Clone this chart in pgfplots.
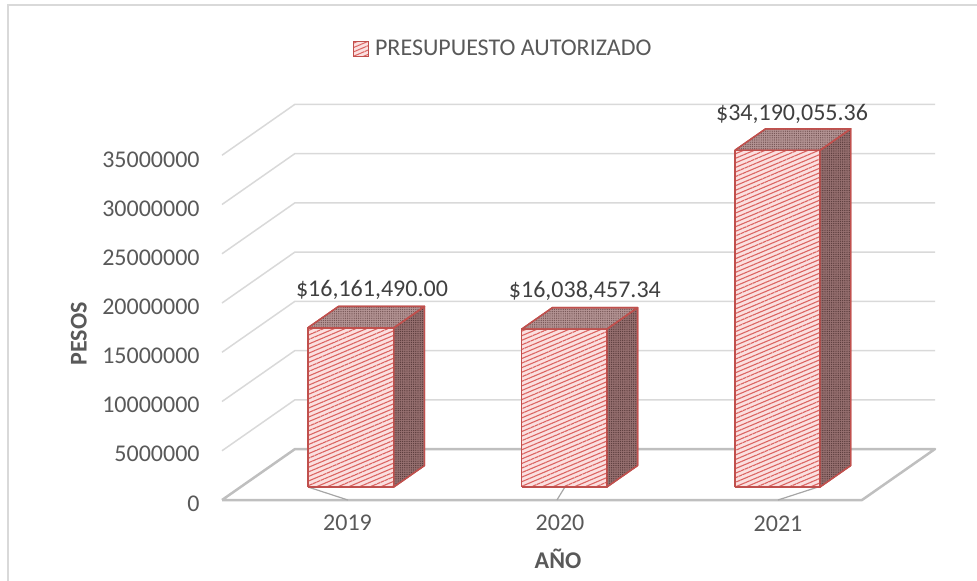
\documentclass[border=0pt]{standalone}
\usepackage{fontspec}
\setmainfont{Carlito}
\usepackage{pgfplots}
\pgfplotsset{compat=1.18}
\usetikzlibrary{patterns,patterns.meta}
\definecolor{gridc}{HTML}{D9D9D9}
\definecolor{floorc}{HTML}{BFBFBF}
\definecolor{tickc}{HTML}{A6A6A6}
\definecolor{barred}{HTML}{C0504D}
\definecolor{stripe}{HTML}{DB6461}
\definecolor{pinkbg}{HTML}{FBE0E0}
\definecolor{sidebg}{HTML}{967070}
\definecolor{sidedot}{HTML}{5A3C3C}
\definecolor{topbg}{HTML}{B49494}
\definecolor{topdot}{HTML}{765656}
\definecolor{txt}{HTML}{595959}
\definecolor{lbl}{HTML}{404040}
\pgfplotsset{
  frontface/.style={draw=barred, line width=0.7pt, line join=round,
    pattern={Lines[angle=23,distance=2.1pt,line width=0.55pt]}, pattern color=stripe,
    preaction={fill=pinkbg}, forget plot},
  sideface/.style={draw=barred, line width=0.7pt, line join=round,
    pattern={Dots[radius=0.35pt,distance=1.1pt]}, pattern color=sidedot,
    preaction={fill=sidebg}, forget plot},
  topface/.style={draw=barred, line width=0.7pt, line join=round,
    pattern={Dots[radius=0.35pt,distance=1.1pt]}, pattern color=topdot,
    preaction={fill=topbg}, forget plot},
  gl/.style={gridc, line width=0.75pt, forget plot},
}
\begin{document}
\begin{tikzpicture}[font=\fontsize{12}{14}\selectfont]
\begin{axis}[
  hide axis, clip=false,
  x={(106.667pt,0pt)}, y={(36.5pt,25.5pt)}, z={(0pt,4.925pt)},
  z coord trafo/.code={\begingroup\pgfkeys{/pgf/fpu=true}\pgfmathparse{(#1)/1000000}\global\let\myzres\pgfmathresult\endgroup\let\pgfmathresult\myzres},
  xmin=0,xmax=3,ymin=0,ymax=1,zmin=0,zmax=35000000,
  no markers,
  legend style={draw=none, fill=none, at={(axis description cs:0.183,1.14)}, anchor=west,
    font=\fontsize{12}{14}\selectfont, text=txt, inner sep=0pt,
    nodes={inner sep=0pt}, /tikz/every odd column/.append style={column sep=3pt}},
  legend image code/.code={\draw[draw=barred, line width=0.6pt,
    pattern={Lines[angle=23,distance=2pt,line width=0.5pt]}, pattern color=stripe,
    preaction={fill=pinkbg}] (0pt,-3.75pt) rectangle (7.5pt,3.75pt);},
]
\addlegendimage{}
\addlegendentry{PRESUPUESTO AUTORIZADO}
% walls gridlines
\addplot3[gl] coordinates {(0,0,5000000) (0,1,5000000) (3,1,5000000)};
\addplot3[gl] coordinates {(0,0,10000000) (0,1,10000000) (3,1,10000000)};
\addplot3[gl] coordinates {(0,0,15000000) (0,1,15000000) (3,1,15000000)};
\addplot3[gl] coordinates {(0,0,20000000) (0,1,20000000) (3,1,20000000)};
\addplot3[gl] coordinates {(0,0,25000000) (0,1,25000000) (3,1,25000000)};
\addplot3[gl] coordinates {(0,0,30000000) (0,1,30000000) (3,1,30000000)};
\addplot3[gl] coordinates {(0,0,35000000) (0,1,35000000) (3,1,35000000)};
% floor
\addplot3[floorc, line width=1.25pt, line join=round, forget plot] coordinates {(0,0,0) (3,0,0) (3,1,0) (0,1,0) (0,0,0)};
% category tick lines on floor
\addplot3[tickc, line width=0.6pt, forget plot] coordinates {(0.316,0.255,0) (0.59,0,0)};
\addplot3[tickc, line width=0.6pt, forget plot] coordinates {(1.52,0.255,0) (1.57,0,0)};
\addplot3[tickc, line width=0.6pt, forget plot] coordinates {(2.707,0.255,0) (2.606,0,0)};
% bar 2019
\addplot3[frontface] coordinates {(0.315,0.255,0) (0.718,0.255,0) (0.718,0.255,16161490.00) (0.315,0.255,16161490.00) (0.315,0.255,0)};
\addplot3[sideface] coordinates {(0.718,0.255,0) (0.718,0.675,0) (0.718,0.675,16161490.00) (0.718,0.255,16161490.00) (0.718,0.255,0)};
\addplot3[topface] coordinates {(0.315,0.255,16161490.00) (0.718,0.255,16161490.00) (0.718,0.675,16161490.00) (0.315,0.675,16161490.00) (0.315,0.255,16161490.00)};
% bar 2020
\addplot3[frontface] coordinates {(1.318,0.255,0) (1.717,0.255,0) (1.717,0.255,16038457.34) (1.318,0.255,16038457.34) (1.318,0.255,0)};
\addplot3[sideface] coordinates {(1.717,0.255,0) (1.717,0.675,0) (1.717,0.675,16038457.34) (1.717,0.255,16038457.34) (1.717,0.255,0)};
\addplot3[topface] coordinates {(1.318,0.255,16038457.34) (1.717,0.255,16038457.34) (1.717,0.675,16038457.34) (1.318,0.675,16038457.34) (1.318,0.255,16038457.34)};
% bar 2021
\addplot3[frontface] coordinates {(2.317,0.255,0) (2.716,0.255,0) (2.716,0.255,34190055.36) (2.317,0.255,34190055.36) (2.317,0.255,0)};
\addplot3[sideface] coordinates {(2.716,0.255,0) (2.716,0.675,0) (2.716,0.675,34190055.36) (2.716,0.255,34190055.36) (2.716,0.255,0)};
\addplot3[topface] coordinates {(2.317,0.255,34190055.36) (2.716,0.255,34190055.36) (2.716,0.675,34190055.36) (2.317,0.675,34190055.36) (2.317,0.255,34190055.36)};
% data labels
\node[lbl, anchor=base, inner sep=0pt, yshift=5pt] at (axis cs:0.472,0.675,16161490.00) {\$16,161,490.00};
\node[lbl, anchor=base, inner sep=0pt, yshift=5pt] at (axis cs:1.470,0.675,16038457.34) {\$16,038,457.34};
\node[lbl, anchor=base, inner sep=0pt, yshift=4pt] at (axis cs:2.441,0.675,34190055.36) {\$34,190,055.36};
\coordinate (O) at (axis cs:0,0,0);
\end{axis}
\pgfresetboundingbox
\begin{scope}[shift={(O)}]
\begin{scope}[x=0.5pt, y=-0.5pt]
\begin{scope}[shift={(-222,-500)}]
\path[use as bounding box] (0,0) rectangle (977,580);
\draw[gridc, line width=1pt] (8,5) rectangle (1000,600);
% value tick labels
\foreach \lab/\py in {0/511, 5000000/461.9, 10000000/412.8, 15000000/363.7, 20000000/314.6, 25000000/265.5, 30000000/216.4, 35000000/167.3}
  \node[txt, anchor=base east, inner sep=0pt] at (200,\py) {\lab};
% category labels
\node[txt, anchor=base, inner sep=0pt] at (347.5,530) {2019};
\node[txt, anchor=base, inner sep=0pt] at (560,530) {2020};
\node[txt, anchor=base, inner sep=0pt] at (778,531) {2021};
% axis titles
\node[txt, anchor=base, inner sep=0pt] at (558,568) {\bfseries AÑO};
\node[txt, anchor=base, inner sep=0pt, rotate=90] at (86.5,334) {\bfseries PESOS};
\end{scope}
\end{scope}
\end{scope}
\end{tikzpicture}
\end{document}
